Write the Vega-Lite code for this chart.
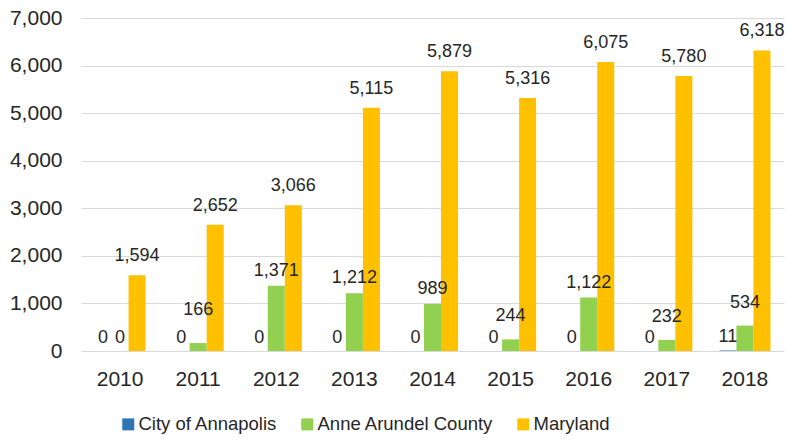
{
  "$schema": "https://vega.github.io/schema/vega-lite/v6.json",
  "width": 703,
  "height": 333,
  "autosize": {"type": "none"},
  "padding": {"left": 81, "top": 18, "right": 7, "bottom": 90},
  "background": "white",
  "config": {"font": "Liberation Sans", "view": {"stroke": null}},
  "data": {
    "values": [
      {"year": "2010", "series": "City of Annapolis", "value": 0},
      {"year": "2010", "series": "Anne Arundel County", "value": 0},
      {"year": "2010", "series": "Maryland", "value": 1594},
      {"year": "2011", "series": "City of Annapolis", "value": 0},
      {"year": "2011", "series": "Anne Arundel County", "value": 166},
      {"year": "2011", "series": "Maryland", "value": 2652},
      {"year": "2012", "series": "City of Annapolis", "value": 0},
      {"year": "2012", "series": "Anne Arundel County", "value": 1371},
      {"year": "2012", "series": "Maryland", "value": 3066},
      {"year": "2013", "series": "City of Annapolis", "value": 0},
      {"year": "2013", "series": "Anne Arundel County", "value": 1212},
      {"year": "2013", "series": "Maryland", "value": 5115},
      {"year": "2014", "series": "City of Annapolis", "value": 0},
      {"year": "2014", "series": "Anne Arundel County", "value": 989},
      {"year": "2014", "series": "Maryland", "value": 5879},
      {"year": "2015", "series": "City of Annapolis", "value": 0},
      {"year": "2015", "series": "Anne Arundel County", "value": 244},
      {"year": "2015", "series": "Maryland", "value": 5316},
      {"year": "2016", "series": "City of Annapolis", "value": 0},
      {"year": "2016", "series": "Anne Arundel County", "value": 1122},
      {"year": "2016", "series": "Maryland", "value": 6075},
      {"year": "2017", "series": "City of Annapolis", "value": 0},
      {"year": "2017", "series": "Anne Arundel County", "value": 232},
      {"year": "2017", "series": "Maryland", "value": 5780},
      {"year": "2018", "series": "City of Annapolis", "value": 11},
      {"year": "2018", "series": "Anne Arundel County", "value": 534},
      {"year": "2018", "series": "Maryland", "value": 6318}
    ]
  },
  "encoding": {
    "x": {
      "field": "year", "type": "nominal",
      "scale": {"paddingInner": 0.346, "paddingOuter": 0.173},
      "axis": {"title": null, "labelAngle": 0, "ticks": false, "domain": false, "grid": false,
               "labelFontSize": 21, "labelColor": "#262626", "labelPadding": 17}
    },
    "xOffset": {
      "field": "series", "type": "nominal",
      "sort": ["City of Annapolis", "Anne Arundel County", "Maryland"],
      "scale": {"paddingInner": 0, "paddingOuter": 0}
    },
    "y": {
      "field": "value", "type": "quantitative",
      "scale": {"domain": [0, 7000], "nice": false},
      "axis": {"title": null, "values": [0, 1000, 2000, 3000, 4000, 5000, 6000, 7000],
               "labelExpr": "format(datum.value, ',')",
               "ticks": false, "domain": false, "gridColor": "#d9d9d9", "gridWidth": 1.2,
               "labelFontSize": 21, "labelPadding": 19, "labelColor": "#262626"}
    }
  },
  "layer": [
    {
      "mark": {"type": "bar"},
      "encoding": {
        "color": {
          "field": "series", "type": "nominal",
          "scale": {"domain": ["City of Annapolis", "Anne Arundel County", "Maryland"],
                    "range": ["#2E75B6", "#92D050", "#FFC000"]},
          "legend": {"orient": "none", "legendX": 38, "legendY": 397, "direction": "horizontal",
                     "title": null, "symbolType": "square", "symbolSize": 144, "symbolStrokeWidth": 0,
                     "labelFontSize": 18.5, "labelColor": "#262626", "labelLimit": 400,
                     "columnPadding": 20, "labelOffset": 1}
        }
      }
    },
    {
      "transform": [{"filter": "datum.series == 'Maryland'"}],
      "mark": {"type": "text", "dy": -14, "baseline": "alphabetic", "fontSize": 18, "color": "#262626"},
      "encoding": {"text": {"field": "value", "type": "quantitative", "format": ","}}
    },
    {
      "transform": [{"filter": "datum.series == 'City of Annapolis' || (datum.series == 'Anne Arundel County' && datum.value == 0)"}],
      "mark": {"type": "text", "dy": -8, "baseline": "alphabetic", "fontSize": 18, "color": "#262626"},
      "encoding": {"text": {"field": "value", "type": "quantitative", "format": ","}}
    },
    {
      "transform": [{"filter": "datum.series == 'Anne Arundel County' && datum.value >= 600"}],
      "mark": {"type": "text", "dy": -10, "baseline": "alphabetic", "fontSize": 18, "color": "#262626"},
      "encoding": {"text": {"field": "value", "type": "quantitative", "format": ","}}
    },
    {
      "transform": [{"filter": "datum.series == 'Anne Arundel County' && datum.value > 200 && datum.value < 600"}],
      "mark": {"type": "text", "dy": -18, "baseline": "alphabetic", "fontSize": 18, "color": "#262626"},
      "encoding": {"text": {"field": "value", "type": "quantitative", "format": ","}}
    },
    {
      "transform": [{"filter": "datum.series == 'Anne Arundel County' && datum.value > 0 && datum.value <= 200"}],
      "mark": {"type": "text", "dy": -28, "baseline": "alphabetic", "fontSize": 18, "color": "#262626"},
      "encoding": {"text": {"field": "value", "type": "quantitative", "format": ","}}
    }
  ]
}
